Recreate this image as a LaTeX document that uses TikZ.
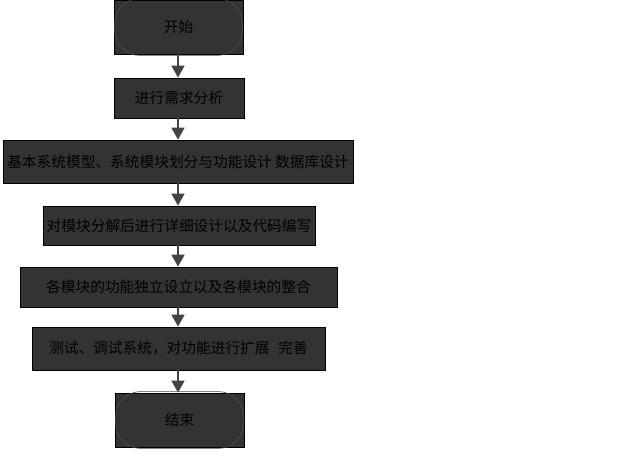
\documentclass[tikz,border=0pt]{standalone}
\usepackage{fontspec}
\setmainfont{Noto Sans CJK SC}
\usetikzlibrary{arrows.meta}
\definecolor{boxfill}{HTML}{333333}
\definecolor{arrowc}{HTML}{444444}
\definecolor{roundc}{HTML}{4C4C4C}
\begin{document}
\begin{tikzpicture}[x=1pt,y=-1pt,
  stepbox/.style={draw=black,line width=0.8pt,fill=boxfill,text=black,inner sep=0pt,
    font=\fontsize{14.7}{16}\selectfont,anchor=center},
  flowarrow/.style={draw=arrowc,line width=1.6pt,-{Triangle[width=13pt,length=12pt]}}]
\useasboundingbox (0,0) rectangle (644,462);
\fill[white] (0,0) rectangle (644,462);
\node[stepbox,minimum width=129pt,minimum height=54pt] (start) at (178.5,27) {开始};
\draw[roundc,line width=0.6pt,rounded corners=25pt] ([xshift=1pt,yshift=-1pt]start.south west) rectangle ([xshift=-1pt,yshift=1pt]start.north east);
\node[stepbox,minimum width=130pt,minimum height=40pt] (req) at (179,98) {进行需求分析};
\node[stepbox,minimum width=350pt,minimum height=43pt] (model) at (178,161.5) {基本系统模型、系统模块划分与功能设计 数据库设计};
\node[stepbox,minimum width=272pt,minimum height=39pt] (detail) at (179,225.5) {对模块分解后进行详细设计以及代码编写};
\node[stepbox,minimum width=317pt,minimum height=40pt] (integ) at (178.5,287) {各模块的功能独立设立以及各模块的整合};
\node[stepbox,minimum width=293pt,minimum height=43pt] (test) at (178.5,348.5) {测试、调试系统，对功能进行扩展\hspace{0.6em}完善};
\node[stepbox,minimum width=129pt,minimum height=54pt] (end) at (179.5,420) {结束};
\draw[roundc,line width=0.6pt,rounded corners=25pt] ([xshift=1pt,yshift=-1pt]end.south west) rectangle ([xshift=-1pt,yshift=1pt]end.north east);
\draw[flowarrow] (start.south -| 178,0) -- (req.north -| 178,0);
\draw[flowarrow] (req.south -| 178,0) -- (model.north -| 178,0);
\draw[flowarrow] (model.south -| 178,0) -- (detail.north -| 178,0);
\draw[flowarrow] (detail.south -| 178,0) -- (integ.north -| 178,0);
\draw[flowarrow] (integ.south -| 178,0) -- (test.north -| 178,0);
\draw[flowarrow] (test.south -| 178,0) -- (end.north -| 178,0);
\end{tikzpicture}
\end{document}
